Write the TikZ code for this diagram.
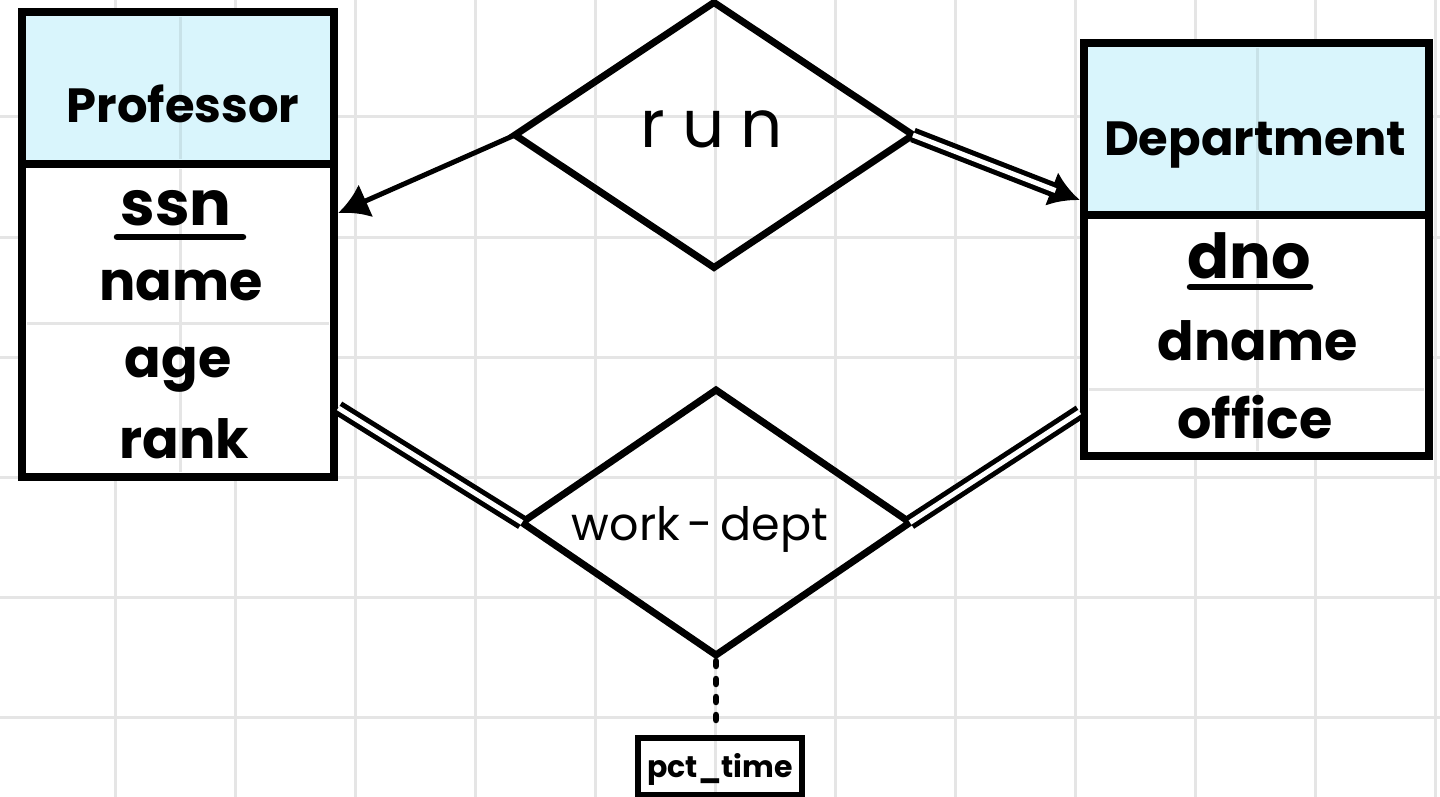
\documentclass[tikz,border=0pt]{standalone}
\usepackage{fontspec}
\setmainfont{Poppins}
\usetikzlibrary{shapes.geometric,arrows.meta,calc}
\definecolor{hdr}{RGB}{217,245,252}
\definecolor{gridc}{RGB}{229,229,229}
\definecolor{hgridc}{RGB}{200,226,232}
\begin{document}
\begin{tikzpicture}[x=1pt,y=-1pt,
  gridline/.style={gridc, line width=3pt},
  hgridline/.style={hgridc, line width=3pt},
  entbox/.style={draw, line width=8.5pt, rectangle, inner sep=0pt},
  hdrbox/.style={entbox, fill=hdr},
  bodybox/.style={entbox, fill=white},
  rel/.style={draw, diamond, line width=7pt, inner sep=0pt, outer sep=0pt},
  ename/.style={font=\fontsize{48pt}{52pt}\selectfont\bfseries, anchor=base, inner sep=0pt},
  attr/.style={font=\fontsize{54pt}{58pt}\selectfont\bfseries, anchor=base, inner sep=0pt},
  keyattr/.style={font=\fontsize{62pt}{66pt}\selectfont\bfseries, anchor=base, inner sep=0pt},
  keyline/.style={line width=6.5pt, line cap=round},
  single/.style={line width=5pt, -{Latex[length=30pt,width=36pt]}},
  dbl/.style={line width=5pt, double=white, double distance=5pt},
  dotline/.style={line width=6.5pt, line cap=round, dash pattern=on 5pt off 13pt},
  attbox/.style={draw, line width=6pt, inner sep=0pt, minimum width=164pt, minimum height=57pt},
  reltext/.style={anchor=base, inner sep=0pt}
]
\useasboundingbox (0,0) rectangle (1440,797);
\fill[white] (0,0) rectangle (1440,797);
\foreach \x in {115,235,...,1435} \draw[gridline] (\x,0) -- (\x,797);
\foreach \y in {117,237,...,717} \draw[gridline] (0,\y) -- (1440,\y);

% Professor entity
\node[hdrbox, minimum width=312pt, minimum height=152pt] (profh) at (178,88) {};
\node[bodybox, minimum width=312pt, minimum height=313pt] (profb) at (178,320.5) {};
\draw[hgridline] (180,17) -- (180,159);
\draw[gridline] (180,169) -- (180,472);
\draw[gridline] (27,323) -- (329,323);
\node[ename] (proft) at (183,123) {Professor};
\node[keyattr] (ssn) at (176,225) {ssn};
\draw[keyline] (117,237) -- (243,237);
\node[attr] (pname) at (181,300) {name};
\node[attr] (page) at (178,377) {age};
\node[attr] (prank) at (184,458) {rank};

% Department entity
\node[hdrbox, minimum width=345pt, minimum height=172pt] (deph) at (1256.5,129) {};
\node[bodybox, minimum width=345pt, minimum height=241pt] (depb) at (1256.5,335.5) {};
\draw[hgridline] (1257,48) -- (1257,210);
\draw[gridline] (1257,220) -- (1257,451);
\draw[gridline] (1089,389) -- (1424,389);
\node[ename] (dept) at (1255,155) {Department};
\node[keyattr] (dno) at (1249,278) {dno};
\draw[keyline] (1190,287) -- (1310,287);
\node[attr] (dname) at (1258,360) {dname};
\node[attr] (office) at (1255,438) {office};

% Relationships
\node[rel, minimum width=398pt, minimum height=265pt] (run) at (714,135) {};
\node[reltext, font=\fontsize{66pt}{70pt}\selectfont\addfontfeatures{LetterSpace=25}] (runt) at (712,147) {run};
\node[rel, minimum width=388pt, minimum height=265pt] (wd) at (716,522.5) {};
\node[reltext, font=\fontsize{46pt}{50pt}\selectfont] (wdt) at (700,540) {work\,-\,dept};

% pct_time attribute
\node[attbox] (pct) at (720,766.5) {};
\node[reltext, font=\fontsize{30pt}{34pt}\selectfont\bfseries] (pctt) at (720,777) {pct\_time};

% connectors
\draw[single] (run.west) -- ([yshift=107.5pt]profb.east);
\draw[single] (run.east) -- ([yshift=-71pt]deph.west);
\draw[dbl, shorten >=26pt] (run.east) -- ([yshift=-71pt]deph.west);
\draw[dbl] ([yshift=-87.5pt]profb.east) -- (wd.west);
\draw[dbl] ([yshift=-76.5pt]depb.west) -- (wd.east);
\draw[dotline] ([yshift=-6pt]wd.south) -- ([yshift=3pt]wd.south |- pct.north);
\end{tikzpicture}
\end{document}
